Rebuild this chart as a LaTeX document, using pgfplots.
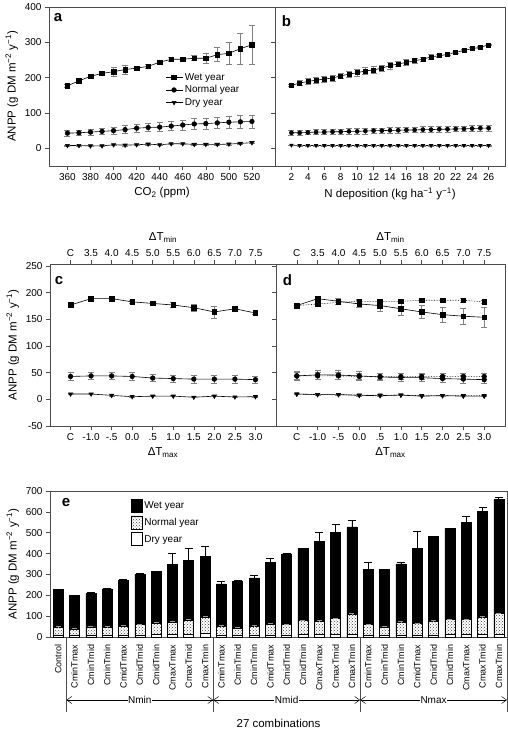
\documentclass[border=0pt]{standalone}
\usepackage{fontspec}
\setmainfont{Liberation Sans}
\usepackage{pgfplots}
\usepackage{pgfplotstable}
\pgfplotsset{compat=1.18}
\usetikzlibrary{patterns,arrows.meta}

\pgfplotstableread{
x w we n ne d de
360 177 5 43 8 8 2
370 191 4 44 8 8 2
380 204 4 46 9 7 2
390 212 4 48 9 7 2
400 217 13 50 10 10 2
410 223 13 53 11 9 2
420 227 5 57 11 10 2
430 232 5 59 12 12 2
440 244 5 60 13 10 2
450 252 5 63 13 13 2
460 252 5 66 14 13 2
470 255 7 69 15 11 2
480 255 15 70 15 11 2
490 265 20 72 16 11 2
500 269 31 74 17 12 2
510 282 44 75 18 14 3
520 293 55 76 18 16 3
}\tabA

\pgfplotstableread{
x w we n ne d de
2 178 3 44 6 9 1
3 185 8 44 6 8 1
4 189 8 45 6 8 1
5 193 8 46 7 8 1
6 196 8 46 7 8 1
7 199 8 47 7 8 1
8 205 8 47 7 8 1
9 210 8 48 8 8 1
10 214 9 48 8 8 1
11 219 9 49 8 8 1
12 222 9 50 8 8 1
13 227 9 50 8 8 1
14 234 9 51 8 8 1
15 239 8 51 8 8 1
16 243 8 52 8 8 1
17 248 7 52 8 8 1
18 252 7 53 8 8 1
19 259 6 53 8 8 1
20 262 5 54 8 8 1
21 266 4 54 8 8 1
22 272 3 55 8 8 1
23 277 3 55 8 8 1
24 282 3 56 8 8 1
25 286 2 57 8 8 1
26 293 2 57 8 8 1
}\tabB

\pgfplotstableread{
x w we n ne d de
0 177 4 43 7 10 1
1 189 2 44 7 10 1
2 189 3 44 7 7.5 1
3 183 2 43 7 5 1
4 180 2 40 7 6 1
5 177 5 39 7 6 1
6 172 6 38 7 4 1
7 164 11 38 7 6 1
8 170 2 38 7 4.5 1
9 162 2 37 7 5 1
}\tabC

\pgfplotstableread{
x w we wd wde n ne nd nde d de dd dde
0 176 4 176 3 44 8 44 6 10 1 10 1
1 189 4 179 3 46 8 44 6 9 1 9 1
2 184 6 182 3 45.6 8 44 6 9 1 9 1
3 179 7 184 3 44 8 43 6 7.5 1 8 1
4 176 10 184 3 42 7 43 6 7 1 8 1
5 170 12 184 3 41 7 43 6 8 1 8 1
6 164 12 186 3 40.6 7 43 6 6 1 7 1
7 159 14 186 3 39 7 43 6 7 1 7 1
8 156 15 186 3 38 7 43 6 6 1 7 1
9 154 19 183 3 37 7 43 6 6 1 7 1
}\tabD

\pgfplotstableread{
x w we n ne d
0 230 0 46 3 10
1 200 0 38 3 8
2 210 6 48 4 9
3 231 2 46 3 10
4 273 3 51 6 8
5 301 2 59 4 9
6 314 2 67 4 12
7 349 52 70 5 12
8 367 59 80 5 14
9 385 50 94 5 16
10 255 12 51 4 9
11 265 8 43 4 8
12 283 12 51 4 10
13 357 22 62 4 9
14 399 2 59 4 10
15 424 2 78 4 12
16 459 41 75 4 11
17 501 41 88 4 13
18 528 32 107 5 14
19 325 32 59 4 8
20 325 0 49 3 7
21 351 6 70 4 9
22 424 85 64 4 9
23 482 2 75 4 10
24 520 2 83 3 12
25 550 27 83 4 11
26 601 21 94 4 13
27 660 10 112 4 15
}\tabE

\pgfplotsset{
  every axis/.append style={
    scale only axis,
    /pgf/number format/assume math mode=true,
    tick label style={font=\fontsize{10}{12}\selectfont},
    label style={font=\fontsize{11.5}{13}\selectfont},
    tick align=outside,
    xtick pos=left, ytick pos=left,
    axis line style={black!70, line width=0.8pt},
    major tick length=4pt,
    every tick/.style={black!70, line width=0.6pt},
    clip=false,
  },
  ser/.style={black, line width=0.6pt, mark size=2.3pt,
    error bars/y dir=both, error bars/y explicit,
    error bars/error bar style={gray, line width=0.6pt, solid},
    error bars/error mark options={gray, rotate=90, mark size=3pt, line width=0.6pt, solid}},
  sq/.style={mark=square*, mark options={fill=black, solid}},
  ci/.style={mark=*, mark options={fill=black, solid}},
  tr/.style={mark=triangle*, mark options={fill=black, rotate=180, solid}},
}
\tikzset{plab/.style={font=\fontsize{15}{15}\selectfont\bfseries, anchor=center},
  sep/.style={black!70, line width=0.8pt},
  narr/.style={{Straight Barb[length=5pt,width=7pt]}-{Straight Barb[length=5pt,width=7pt]}, line width=0.5pt}}
\newcommand{\anpp}{ANPP (g DM m\textsuperscript{−2} y\textsuperscript{−1})}

\begin{document}
\begin{tikzpicture}
\useasboundingbox (0,0) rectangle (508pt,-731pt);

% ---- panel a
\begin{axis}[at={(49pt,-166pt)}, anchor=south west, width=226pt, height=159pt,
  xmin=344, xmax=540, ymin=-50, ymax=400,
  xtick={360,380,...,520}, ytick={0,100,...,400},
  xlabel={CO\textsubscript{2} (ppm)}, ylabel={\anpp},
  legend style={at={(0.5,0.61)}, anchor=north west, draw=none, fill=none,
    font=\fontsize{10}{12}\selectfont, row sep=0pt},
  legend cell align=left]
\addplot[ser, sq] table[x=x, y=w, y error=we] {\tabA};
\addlegendentry{Wet year}
\addplot[ser, ci] table[x=x, y=n, y error=ne] {\tabA};
\addlegendentry{Normal year}
\addplot[ser, tr] table[x=x, y=d, y error=de] {\tabA};
\addlegendentry{Dry year}
\node[plab] at (rel axis cs:0.04,0.935) {a};
\end{axis}

% ---- panel b
\begin{axis}[at={(275pt,-166pt)}, anchor=south west, width=230pt, height=159pt,
  xmin=0, xmax=28, ymin=-50, ymax=400,
  xtick={2,4,...,26}, ytick={0,100,...,400}, yticklabels={},
  xlabel={N deposition (kg ha\textsuperscript{−1} y\textsuperscript{−1})}]
\addplot[ser, sq, mark size=2pt] table[x=x, y=w, y error=we] {\tabB};
\addplot[ser, ci, mark size=2pt] table[x=x, y=n, y error=ne] {\tabB};
\addplot[ser, tr, mark size=2pt] table[x=x, y=d, y error=de] {\tabB};
\node[plab] at (rel axis cs:0.05,0.91) {b};
\end{axis}

% ---- panel c
\begin{axis}[at={(50pt,-426pt)}, anchor=south west, width=226pt, height=162pt,
  xmin=-1, xmax=10, ymin=-50, ymax=254,
  xtick={0,...,9}, xticklabels={C,-1.0,-.5,0.0,.5,1.0,1.5,2.0,2.5,3.0},
  ytick={-50,0,...,250},
  xlabel={ΔT\textsubscript{max}}, ylabel={\anpp}]
\addplot[ser, sq] table[x=x, y=w, y error=we] {\tabC};
\addplot[ser, ci] table[x=x, y=n, y error=ne] {\tabC};
\addplot[ser, tr] table[x=x, y=d, y error=de] {\tabC};
\node[plab] at (rel axis cs:0.04,0.9) {c};
\end{axis}
\begin{axis}[at={(50pt,-426pt)}, anchor=south west, width=226pt, height=162pt,
  xmin=-1, xmax=10, ymin=0, ymax=1,
  axis x line*=top, axis y line=none, xtick pos=right, xticklabel pos=right,
  xtick={0,...,9}, xticklabels={C,3.5,4.0,4.5,5.0,5.5,6.0,6.5,7.0,7.5},
  xlabel={ΔT\textsubscript{min}}]
\end{axis}

% ---- panel d
\begin{axis}[at={(276pt,-426pt)}, anchor=south west, width=229pt, height=162pt,
  xmin=-1, xmax=10, ymin=-50, ymax=254,
  xtick={0,...,9}, xticklabels={C,-1.0,-.5,0.0,.5,1.0,1.5,2.0,2.5,3.0},
  ytick={-50,0,...,250}, yticklabels={},
  xlabel={ΔT\textsubscript{max}}]
\addplot[ser, sq, densely dotted] table[x=x, y=wd, y error=wde] {\tabD};
\addplot[ser, sq] table[x=x, y=w, y error=we] {\tabD};
\addplot[ser, ci, densely dotted] table[x=x, y=nd, y error=nde] {\tabD};
\addplot[ser, ci] table[x=x, y=n, y error=ne] {\tabD};
\addplot[ser, tr, densely dotted] table[x=x, y=dd, y error=dde] {\tabD};
\addplot[ser, tr] table[x=x, y=d, y error=de] {\tabD};
\node[plab] at (rel axis cs:0.05,0.9) {d};
\end{axis}
\begin{axis}[at={(276pt,-426pt)}, anchor=south west, width=229pt, height=162pt,
  xmin=-1, xmax=10, ymin=0, ymax=1,
  axis x line*=top, axis y line=none, xtick pos=right, xticklabel pos=right,
  xtick={0,...,9}, xticklabels={C,3.5,4.0,4.5,5.0,5.5,6.0,6.5,7.0,7.5},
  xlabel={ΔT\textsubscript{min}}]
\end{axis}

% ---- panel e
\begin{axis}[at={(50pt,-637pt)}, anchor=south west, width=457pt, height=146pt,
  xmin=-0.5, xmax=27.5, ymin=0, ymax=700,
  ytick={0,100,...,700},
  xtick={0,...,27},
  xticklabels={Control,CminTmax,CminTmid,CminTmin,CmidTmax,CmidTmid,CmidTmin,CmaxTmax,CmaxTmid,CmaxTmin,CminTmax,CminTmid,CminTmin,CmidTmax,CmidTmid,CmidTmin,CmaxTmax,CmaxTmid,CmaxTmin,CminTmax,CminTmid,CminTmin,CmidTmax,CmidTmid,CmidTmin,CmaxTmax,CmaxTmid,CmaxTmin},
  x tick label style={rotate=90, anchor=east, font=\fontsize{9}{10}\selectfont},
  xtick style={draw=none},
  ybar, bar width=10pt, bar shift=0pt,
  ylabel={\anpp},
  xlabel={27 combinations},
  xlabel style={at={(axis description cs:0.5,0)}, anchor=center, yshift=-86pt},
  legend style={at={(0.17,0.96)}, anchor=north west, draw=none, fill=none,
    font=\fontsize{10}{12}\selectfont, row sep=3pt},
  legend cell align=left,
  legend image code/.code={\draw[#1] (0pt,-6pt) rectangle (11pt,7pt);}]
\addplot[fill=black, draw=black, line width=0.5pt,
  error bars/.cd, y dir=plus, y explicit,
  error bar style={black, line width=0.7pt},
  error mark options={black, rotate=90, mark size=4pt, line width=0.7pt}]
  table[x=x, y=w, y error=we] {\tabE};
\addlegendentry{Wet year}
\addplot[fill=white, draw=black, line width=0.5pt,
  postaction={pattern=crosshatch dots, pattern color=black!75},
  error bars/.cd, y dir=plus, y explicit,
  error bar style={white!60!black, line width=0.6pt},
  error mark options={white!60!black, rotate=90, mark size=2.5pt, line width=0.6pt}]
  table[x=x, y=n, y error=ne] {\tabE};
\addlegendentry{Normal year}
\addplot[fill=white, draw=black, line width=0.5pt]
  table[x=x, y=d] {\tabE};
\addlegendentry{Dry year}
\node[plab] at (rel axis cs:0.035,0.92) {e};
\draw[sep] (axis cs:0.5,0) -- ([yshift=-75pt]axis cs:0.5,0);
\draw[sep] (axis cs:9.5,0) -- ([yshift=-75pt]axis cs:9.5,0);
\draw[sep] (axis cs:18.5,0) -- ([yshift=-75pt]axis cs:18.5,0);
\draw[sep] (axis cs:27.5,0) -- ([yshift=-75pt]axis cs:27.5,0);
\draw[narr] ([yshift=-63pt]axis cs:0.5,0) -- node[fill=white, inner sep=0.5pt, font=\fontsize{10}{12}\selectfont]{Nmin} ([yshift=-63pt]axis cs:9.5,0);
\draw[narr] ([yshift=-63pt]axis cs:9.5,0) -- node[fill=white, inner sep=0.5pt, font=\fontsize{10}{12}\selectfont]{Nmid} ([yshift=-63pt]axis cs:18.5,0);
\draw[narr] ([yshift=-63pt]axis cs:18.5,0) -- node[fill=white, inner sep=0.5pt, font=\fontsize{10}{12}\selectfont]{Nmax} ([yshift=-63pt]axis cs:27.5,0);
\end{axis}
\end{tikzpicture}
\end{document}
